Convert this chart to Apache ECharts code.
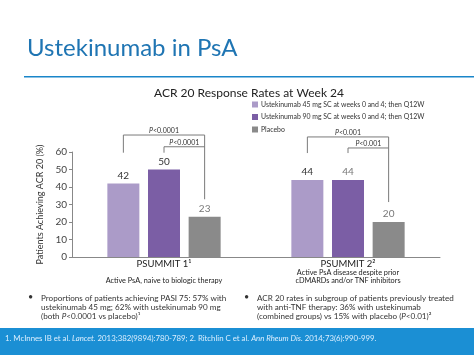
<!DOCTYPE html>
<html><head><meta charset="utf-8">
<script src="https://cdn.jsdelivr.net/npm/echarts@6/dist/echarts.min.js"></script>
<style>html,body{margin:0;padding:0;background:#fff}#c{width:474px;height:355px}</style>
</head><body><div id="c"></div>
<script>
var categories = ['PSUMMIT 1¹', 'PSUMMIT 2²'];
var subLabels = [['', 'Active PsA, naive to biologic therapy'], ['Active PsA disease despite prior', 'cDMARDs and/or TNF inhibitors']];
var seriesNames = ['Ustekinumab 45 mg SC at weeks 0 and 4; then Q12W', 'Ustekinumab 90 mg SC at weeks 0 and 4; then Q12W', 'Placebo'];
var ust45 = [42, 44];
var ust90 = [50, 44];
var placebo = [23, 20];
var yTicks = [0, 10, 20, 30, 40, 50, 60];
// brackets: [category, leftBar, rightBar, topValue, leftEndValue, rightEndValue]
var brackets = [
  [0, 0, 2, 69.7, 59.6, 33.0],
  [0, 1, 2, 63.0, 59.6, 63.0],
  [1, 0, 2, 68.6, 59.4, 31.4],
  [1, 1, 2, 62.3, 59.4, 62.3]
];
var bracketLabels = ['<0.0001', '<0.0001', '<0.001', '<0.001'];
var bullets = [
  ['Proportions of patients achieving PASI 75: 57% with', 'ustekinumab 45 mg; 62% with ustekinumab 90 mg', '(both {i|P}<0.0001 vs placebo)¹'],
  ['ACR 20 rates in subgroup of patients previously treated', 'with anti-TNF therapy: 36% with ustekinumab', '(combined groups) vs 15% with placebo ({i|P}<0.01)²']
];

var FONT = 'Lato';
var colors = ['#ab9bc8', '#7b5ea5', '#8a8a8a'];
var BAR_W = 32, BAR_GAP = 0.27;
var labelColors = [['#333', '#333', '#777'], ['#333', '#777', '#777']];

function barSeries(i, vals) {
  return {
    name: seriesNames[i], type: 'bar', data: vals.map(function (v, k) {
      return { value: v, label: { color: labelColors[k][i] } };
    }),
    barWidth: BAR_W, barGap: (BAR_GAP * 100) + '%',
    itemStyle: { color: colors[i] },
    label: { show: true, position: 'top', fontSize: 10, fontFamily: FONT, distance: 3 }
  };
}

var chart = echarts.init(document.getElementById('c'), null, { renderer: 'canvas' });
var option = {
  animation: false,
  textStyle: { fontFamily: FONT },
  title: {
    text: 'ACR 20 Response Rates at Week 24', left: 244, top: 82, textAlign: 'center',
    textStyle: { fontSize: 12, fontWeight: 'normal', color: '#222', fontFamily: FONT }
  },
  legend: {
    orient: 'vertical', left: 247, top: 96, itemWidth: 6, itemHeight: 6, itemGap: 5.5,
    icon: 'rect',
    textStyle: { fontSize: 6.9, color: '#333', fontFamily: FONT, padding: [0, 0, 0, -2] },
    data: seriesNames
  },
  grid: { left: 72, right: 34, top: 152, bottom: 98, containLabel: false },
  xAxis: {
    type: 'category', data: categories,
    axisLine: { lineStyle: { color: '#888' } }, axisTick: { show: false },
    axisLabel: {
      interval: 0, margin: 2,
      formatter: function (v, idx) {
        return '{a|' + v + '}\n{b|' + (subLabels[idx][0] || ' ') + '}\n{b|' + subLabels[idx][1] + '}';
      },
      rich: {
        a: { fontSize: 9.5, color: '#222', fontFamily: FONT, lineHeight: 10 },
        b: { fontSize: 7.3, color: '#222', fontFamily: FONT, lineHeight: 8 }
      }
    }
  },
  yAxis: {
    type: 'value', min: 0, max: 60, interval: 10,
    name: 'Patients Achieving ACR 20 (%)', nameLocation: 'middle', nameGap: 25,
    nameTextStyle: { fontSize: 9, color: '#333', fontFamily: FONT },
    axisLine: { show: true, lineStyle: { color: '#888' } },
    axisTick: { show: true, length: 3, lineStyle: { color: '#888' } },
    axisLabel: { fontSize: 10, color: '#444', margin: 5, fontFamily: FONT,
      formatter: function (v) { return yTicks.indexOf(v) >= 0 ? String(v) : ''; } },
    splitLine: { show: false }
  },
  series: [
    barSeries(0, ust45), barSeries(1, ust90), barSeries(2, placebo),
    {
      type: 'custom', clip: false, silent: true, z: 5,
      data: brackets,
      renderItem: function (params, api) {
        var cat = api.value(0);
        var center = api.coord([cat, 0])[0];
        var pitch = BAR_W * (1 + BAR_GAP);
        var xl = center + (api.value(1) - 1) * pitch;
        var xr = center + (api.value(2) - 1) * pitch;
        var yt = api.coord([cat, api.value(3)])[1];
        var yl = api.coord([cat, api.value(4)])[1];
        var yr = api.coord([cat, api.value(5)])[1];
        return {
          type: 'group',
          children: [
            { type: 'polyline', shape: { points: [[xl, yl], [xl, yt], [xr, yt], [xr, yr]] },
              style: { stroke: '#7a7a7a', lineWidth: 1, fill: null } },
            { type: 'text', x: (xl + xr) / 2, y: yt - 0.5,
              style: { text: '{i|P}' + bracketLabels[params.dataIndex], align: 'center', verticalAlign: 'bottom',
                fill: '#333', fontSize: 7, fontFamily: FONT,
                rich: { i: { fontStyle: 'italic', fontSize: 7, fontFamily: FONT, fill: '#333' } } } }
          ]
        };
      }
    }
  ],
  graphic: []
};

var g = [];
g.push({ type: 'text', left: 27, top: 36, style: { text: 'Ustekinumab in PsA', fontSize: 24, fill: '#1f75b3', fontFamily: FONT } });
g.push({ type: 'rect', left: 24, top: 76, shape: { width: 450, height: 1.5 }, style: { fill: '#1a86c9' } });
var bx = [[28, 41], [244, 257]];
bullets.forEach(function (lines, b) {
  g.push({ type: 'text', left: bx[b][0], top: 293, style: { text: '•', fontSize: 9, fill: '#333', fontFamily: FONT } });
  g.push({ type: 'text', left: bx[b][1], top: 293.5, style: {
    text: lines.join('\n'), fontSize: 8.1, lineHeight: 9, fill: '#333', fontFamily: FONT,
    rich: { i: { fontStyle: 'italic', fontSize: 8.1, lineHeight: 9, fill: '#333', fontFamily: FONT } } } });
});
g.push({ type: 'rect', left: 0, top: 328, shape: { width: 474, height: 27 }, style: { fill: '#1b8fd4' } });
g.push({ type: 'text', left: 5, top: 334, style: {
  text: '1. McInnes IB et al. {i|Lancet.} 2013;382(9894):780-789; 2. Ritchlin C et al. {i|Ann Rheum Dis.} 2014;73(6):990-999.',
  fontSize: 7.8, fill: '#dcefff', fontFamily: FONT,
  rich: { i: { fontStyle: 'italic', fontSize: 7.8, fill: '#dcefff', fontFamily: FONT } } } });
option.graphic = g;
chart.setOption(option);
</script></body></html>
